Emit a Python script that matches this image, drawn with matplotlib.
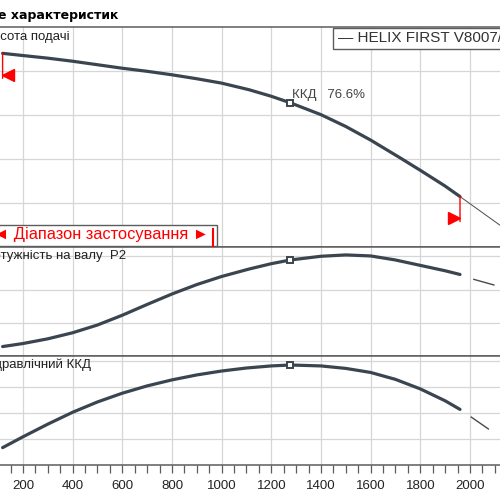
import matplotlib
matplotlib.use("Agg")
import matplotlib.pyplot as plt
import matplotlib.transforms as mtransforms
from matplotlib.lines import Line2D
from matplotlib.patches import Rectangle
from matplotlib.ticker import FixedLocator, MultipleLocator

plt.rcParams["font.family"] = ["Liberation Sans", "DejaVu Sans"]

# -- values --------------------------------------------------------------------
q_head = [118, 200, 300, 400, 500, 600, 700, 800, 900, 1000, 1110, 1200,
          1277, 1400, 1500, 1600, 1720, 1800, 1900, 1960]
h_head = [44.1, 43.6, 43.0, 42.3, 41.5, 40.7, 40.0, 39.2, 38.3, 37.3, 35.8,
          34.3, 32.8, 30.1, 27.4, 24.3, 20.2, 17.4, 13.8, 11.4]
q_head_ext = [1960, 2120]
h_head_ext = [11.4, 4.9]

q_power = [118, 200, 300, 400, 500, 600, 700, 800, 900, 1000, 1110, 1200,
           1277, 1400, 1500, 1600, 1700, 1800, 1900, 1960]
p_power = [0.31, 0.40, 0.54, 0.72, 0.95, 1.24, 1.56, 1.87, 2.15, 2.39, 2.61,
           2.77, 2.88, 2.99, 3.03, 3.00, 2.88, 2.72, 2.56, 2.45]
q_power_ext = [2013, 2120]
p_power_ext = [2.31, 2.09]

q_eff = [118, 200, 300, 400, 500, 600, 700, 800, 900, 1000, 1100, 1200,
         1277, 1400, 1500, 1600, 1700, 1800, 1900, 1960]
e_eff = [13.3, 21.6, 31.3, 40.4, 48.3, 55.0, 60.6, 65.2, 69.0, 72.0, 74.3,
         75.9, 76.6, 75.9, 74.0, 70.9, 65.6, 58.3, 49.2, 42.6]
q_eff_ext = [2003, 2076, 2117]
e_eff_ext = [37.0, 27.4, 21.7]

duty_q = 1277
duty_eff = 76.6

q_labels = list(range(200, 2001, 200))

title = "Поле характеристик"
pump_name = "HELIX FIRST V8007/5-25/E/S/400-50"
range_label = "Діапазон застосування"
panel_labels = ["Висота подачі", "Потужність на валу  P2", "Гідравлічний ККД"]

# -- styles --------------------------------------------------------------------
CURVE = "#3b4550"
GRID = "#d6d6d6"
FRAME = "#5c5c5c"
RED = "#ff0000"

fig = plt.figure(figsize=(5, 5), dpi=100)

# axes run past the figure edges, the reference is a crop of a wider sheet
left = -26.7 / 500
width = 546.3 / 500
ax_h = fig.add_axes([left, 1 - 246.5 / 500, width, 219 / 500])
ax_p = fig.add_axes([left, 1 - 356 / 500, width, 109.5 / 500])
ax_e = fig.add_axes([left, 1 - 465 / 500, width, 109 / 500])

ax_h.set_ylim(0, 50)
ax_h.set_yticks([10, 20, 30, 40])
ax_p.set_ylim(0.03, 3.28)
ax_p.set_yticks([1, 2, 3])
ax_e.set_ylim(0, 83.5)
ax_e.set_yticks([20, 40, 60, 80])

for ax in (ax_h, ax_p, ax_e):
    ax.set_xlim(0, 2200)
    ax.xaxis.set_major_locator(FixedLocator(q_labels))
    ax.xaxis.set_minor_locator(MultipleLocator(50))
    ax.grid(True, which="major", color=GRID, lw=0.9)
    ax.set_axisbelow(True)
    for side in ("left", "right"):
        ax.spines[side].set_visible(False)
    for side in ("top", "bottom"):
        ax.spines[side].set_color(FRAME)
        ax.spines[side].set_linewidth(1.1)
    ax.tick_params(axis="y", length=0, labelleft=False)
    ax.tick_params(axis="x", which="both", length=0, labelbottom=False)

ax_e.tick_params(axis="x", which="both", direction="out", length=5.5,
                 width=0.9, color=FRAME, labelbottom=True, labelsize=9.5,
                 labelcolor="#222222", pad=5)

# -- curves --------------------------------------------------------------------
line_kw = dict(color=CURVE, lw=2.3, solid_capstyle="round",
               solid_joinstyle="round", zorder=3)
ax_h.plot(q_head, h_head, **line_kw)
ax_p.plot(q_power, p_power, **line_kw)
ax_e.plot(q_eff, e_eff, **line_kw)

ax_h.plot(q_head_ext, h_head_ext, color="#4a4a4a", lw=0.7, zorder=2)
ax_p.plot(q_power_ext, p_power_ext, color="#4a4a4a", lw=1.0,
          dashes=(16, 9), zorder=2)
ax_e.plot(q_eff_ext, e_eff_ext, color="#4a4a4a", lw=1.0,
          dashes=(16, 9), zorder=2)

# duty point markers
i_h = q_head.index(duty_q)
i_p = q_power.index(duty_q)
i_e = q_eff.index(duty_q)
mk = dict(marker="s", ms=5, mfc="white", mec=CURVE, mew=1.4, zorder=4)
ax_h.plot(q_head[i_h], h_head[i_h], **mk)
ax_p.plot(q_power[i_p], p_power[i_p], **mk)
ax_e.plot(q_eff[i_e], e_eff[i_e], **mk)

ax_h.annotate(f"ККД   {duty_eff}%", xy=(q_head[i_h], h_head[i_h]),
              xytext=(1, 6), textcoords="offset points", ha="left",
              va="center", fontsize=9.5, color="#444444")

# -- application range markers on the head curve --------------------------------
for q, h, m, dx in ((q_head[0], h_head[0], "<", 4.0),
                    (q_head[-1], h_head[-1], ">", -4.0)):
    ax_h.annotate("", xy=(q, h), xytext=(0, -18), textcoords="offset points",
                  arrowprops=dict(arrowstyle="-", color=RED, lw=1.0,
                                  shrinkA=0, shrinkB=0), zorder=5)
    trans = mtransforms.offset_copy(ax_h.transData, fig=fig, x=dx, y=-15.3,
                                    units="points")
    ax_h.plot(q, h, marker=m, ms=8, color=RED, transform=trans,
              clip_on=False, zorder=5)

# -- boxes and labels -----------------------------------------------------------
fig.add_artist(Rectangle((-0.02, 1 - 245.7 / 500), 217.3 / 500 + 0.02,
                         20.7 / 500, transform=fig.transFigure, fc="white",
                         ec=FRAME, lw=1.0, zorder=5))
fig.text(209 / 500, 1 - 234.5 / 500, f"◄ {range_label} ►", ha="right",
         va="center", color=RED, fontsize=11.8, zorder=6)
fig.add_artist(Line2D([212.5 / 500] * 2, [1 - 229 / 500, 1 - 245.5 / 500],
                      color=RED, lw=1.5, zorder=6))

fig.add_artist(Rectangle((333.3 / 500, 1 - 49 / 500), 0.4, 21 / 500,
                         transform=fig.transFigure, fc="white", ec=FRAME,
                         lw=1.0, zorder=5))
fig.text(338 / 500, 1 - 38.5 / 500, f"— {pump_name}", ha="left", va="center",
         color="#333333", fontsize=11, zorder=6)

for label, y in zip(panel_labels, (36.7, 255.5, 365)):
    fig.text(-16.5 / 500, 1 - y / 500, label, ha="left", va="center",
             fontsize=9.5, color="#222222", zorder=6)

fig.text(118.5 / 500, 1 - 15 / 500, title, ha="right", va="center",
         fontsize=9, fontweight="bold", family="DejaVu Sans")

fig.savefig("out.png", dpi=100)
